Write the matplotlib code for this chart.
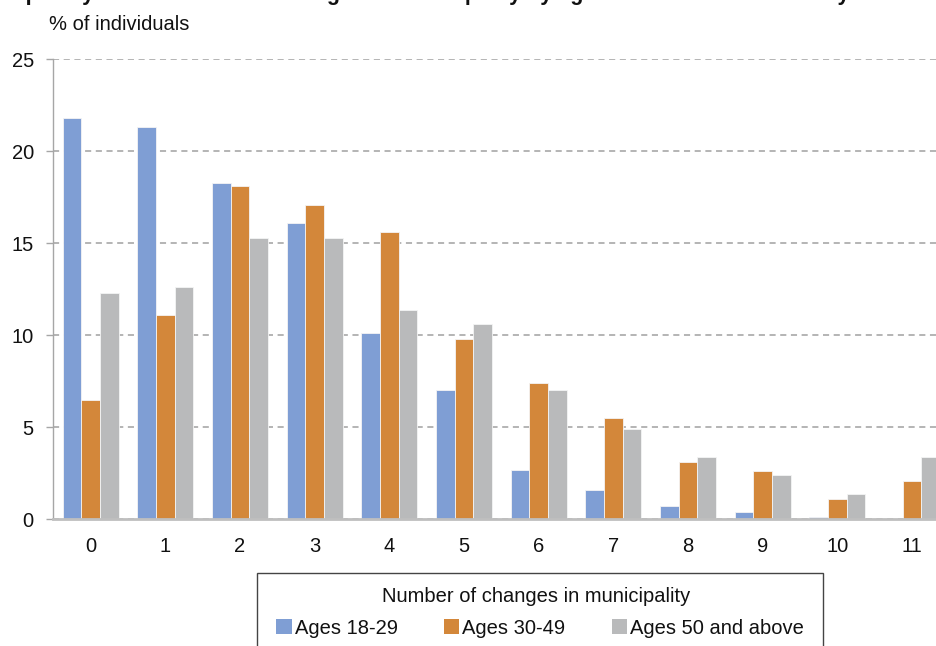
import matplotlib
matplotlib.use("Agg")
import matplotlib.pyplot as plt
import numpy as np
from matplotlib.patches import Patch, Rectangle

plt.rcParams['font.family'] = ['Liberation Sans', 'DejaVu Sans']

categories = ['0', '1', '2', '3', '4', '5', '6', '7', '8', '9', '10', '11']
series_names = ['Ages 18-29', 'Ages 30-49', 'Ages 50 and above']
ages_18_29 = [21.8, 21.3, 18.3, 16.1, 10.1, 7.0, 2.7, 1.6, 0.7, 0.4, 0.1, 0.0]
ages_30_49 = [6.5, 11.1, 18.1, 17.1, 15.6, 9.8, 7.4, 5.5, 3.1, 2.6, 1.1, 2.1]
ages_50_up = [12.3, 12.6, 15.3, 15.3, 11.4, 10.6, 7.0, 4.9, 3.4, 2.4, 1.4, 3.4]
y_ticks = [0, 5, 10, 15, 20, 25]

colors = ['#7F9ED4', '#D3873A', '#B9BABB']
title = "Frequency of the number of changes in municipality by age at the time of the survey"
legend_title = "Number of changes in municipality"

W, H = 937, 646
fig = plt.figure(figsize=(W / 100, H / 100), dpi=100)
ax = fig.add_axes([53.3 / W, (H - 519.3) / H, 896 / W, 460 / H])

x = np.arange(len(categories))
width = 0.25
series = [ages_18_29, ages_30_49, ages_50_up]
for i, (vals, col) in enumerate(zip(series, colors)):
    ax.bar(x + (i - 1) * width, vals, width, color=col,
           edgecolor='#F4F4F4', linewidth=0.6, zorder=3)

ax.set_xlim(-0.5, len(categories) - 0.5)
ax.set_ylim(0, 25)
ax.set_yticks(y_ticks)
ax.set_xticks(x)
ax.set_xticklabels(categories)

ax.yaxis.grid(True, linestyle=(0, (4, 3)), color='#A0A0A0', linewidth=1.1, zorder=0)
ax.set_axisbelow(True)

for s in ['top', 'right']:
    ax.spines[s].set_visible(False)
ax.spines['left'].set_color('#A6A6A6')
ax.spines['left'].set_linewidth(1.0)
ax.spines['bottom'].set_color('#BFBFBF')
ax.spines['bottom'].set_linewidth(2.0)
ax.spines['bottom'].set_zorder(4)

ax.tick_params(axis='y', length=5, width=1, color='#A6A6A6', pad=9,
               labelsize=14.5, labelcolor='#111111')
ax.tick_params(axis='x', length=0, pad=13, labelsize=14.5, labelcolor='#111111')

fig.text(49 / W, 1 - 25 / H, "% of individuals", fontsize=14.5,
         ha='left', va='center', color='#111111')

# chart title, sitting mostly above the top edge
fig.text(850 / W, 1.0, title, fontsize=15.5, fontweight='bold',
         ha='right', va='baseline', color='#111111')

# legend box running off the bottom edge
fig.patches.append(Rectangle((257 / W, -0.05), (823 - 257) / W, 0.05 + (H - 573) / H,
                             transform=fig.transFigure, fill=False,
                             edgecolor='#444444', linewidth=1.0))
fig.text(536 / W, 1 - 597 / H, legend_title, fontsize=14.5,
         ha='center', va='center', color='#111111')
handles = [Patch(facecolor=c, edgecolor='none') for c in colors]
leg = fig.legend(handles, series_names, ncol=3, loc='center',
                 bbox_to_anchor=(540 / W, 1 - 628 / H), frameon=False,
                 fontsize=14.5,
                 handlelength=0.75, handleheight=0.75, handletextpad=0.15,
                 columnspacing=2.3, borderpad=0.0)
for t in leg.get_texts():
    t.set_color('#111111')

fig.savefig("out.png", dpi=100)
